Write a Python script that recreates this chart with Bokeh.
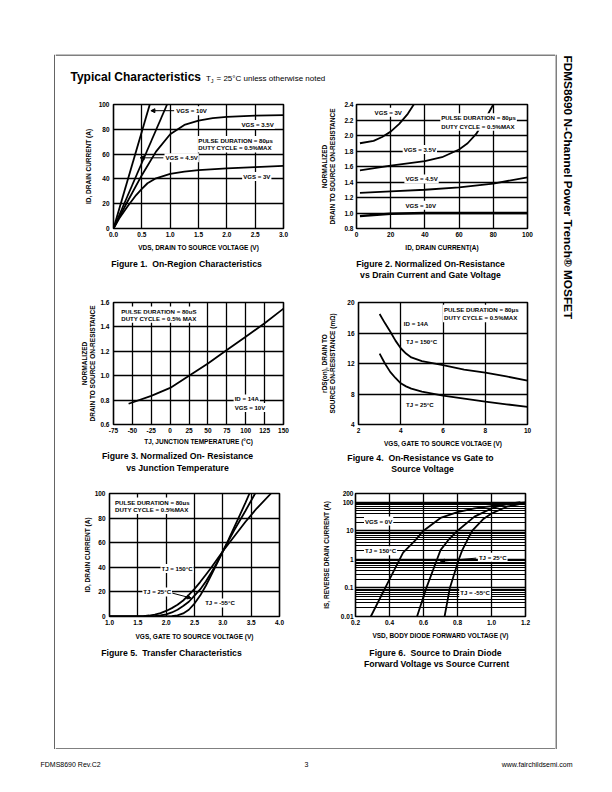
import math
from bokeh.plotting import figure
from bokeh.models import (Range1d, Label, Arrow, NormalHead, Span, FixedTicker,
                          NumeralTickFormatter, CustomJSTickFormatter, Spacer)
from bokeh.layouts import row, column
from bokeh.embed import file_html
from bokeh.resources import INLINE

FONT = "Liberation Sans"
NB = "\u00a0"

# ---------------- data ----------------
# Figure 1: On-Region Characteristics (VDS in V, ID in A)
F1_VDS_10V = [0.0, 0.64]
F1_ID_10V = [0.0, 100.0]
F1_VDS_4V5 = [0.0, 0.945]
F1_ID_4V5 = [0.0, 100.0]
F1_VDS_3V5 = [0.0, 0.1, 0.25, 0.5, 0.75, 1.0, 1.25, 1.5, 1.75, 2.0, 2.5, 3.0]
F1_ID_3V5 = [0.0, 9.0, 22.0, 43.0, 62.0, 76.0, 83.5, 87.0, 89.0, 90.0, 91.0, 91.5]
F1_VDS_3V = [0.0, 0.1, 0.25, 0.4, 0.5, 0.6, 0.75, 1.0, 1.25, 1.5, 2.0, 2.5, 3.0]
F1_ID_3V = [0.0, 8.0, 18.0, 27.0, 32.0, 36.5, 40.5, 44.0, 45.8, 47.0, 48.5, 49.5, 50.5]
F1_XTICKS = [0.0, 0.5, 1.0, 1.5, 2.0, 2.5, 3.0]
F1_YTICKS = [0, 20, 40, 60, 80, 100]

# Figure 2: Normalized on-resistance vs drain current
F2_ID_10V = [2, 10, 20, 40, 60, 80, 100]
F2_R_10V = [0.96, 0.975, 0.99, 1.0, 1.0, 1.0, 1.0]
F2_ID_4V5 = [2, 20, 40, 60, 80, 100]
F2_R_4V5 = [1.26, 1.28, 1.30, 1.33, 1.38, 1.46]
F2_ID_3V5 = [2, 20, 40, 50, 60, 65, 70, 75, 80]
F2_R_3V5 = [1.55, 1.61, 1.67, 1.72, 1.82, 1.90, 2.02, 2.20, 2.40]
F2_ID_3V = [2, 10, 15, 20, 25, 30, 33.5]
F2_R_3V = [1.90, 1.93, 1.98, 2.05, 2.15, 2.28, 2.40]
F2_XTICKS = [0, 20, 40, 60, 80, 100]
F2_YTICKS = [0.8, 1.0, 1.2, 1.4, 1.6, 1.8, 2.0, 2.2, 2.4]

# Figure 3: Normalized on-resistance vs junction temperature
F3_TJ = [-55, -25, 0, 25, 50, 75, 100, 125, 150]
F3_R = [0.77, 0.835, 0.90, 1.0, 1.10, 1.21, 1.32, 1.43, 1.55]
F3_XTICKS = [-75, -50, -25, 0, 25, 50, 75, 100, 125, 150]
F3_YTICKS = [0.6, 0.8, 1.0, 1.2, 1.4, 1.6]

# Figure 4: On-resistance vs gate to source voltage (mOhm)
F4_VGS = [3.0, 3.25, 3.5, 3.75, 4.0, 4.25, 4.5, 5.0, 6.0, 7.0, 8.0, 9.0, 10.0]
F4_R_150C = [18.5, 17.3, 16.2, 15.0, 14.0, 13.3, 12.8, 12.3, 11.8, 11.2, 10.8, 10.3, 9.75]
F4_R_25C = [13.3, 12.0, 10.9, 10.1, 9.4, 9.0, 8.7, 8.3, 7.8, 7.4, 7.0, 6.65, 6.3]
F4_XTICKS = [2, 4, 6, 8, 10]
F4_YTICKS = [4, 8, 12, 16, 20]

# Figure 5: Transfer characteristics
F5_VGS_150C = [1.0, 1.5, 1.6, 1.7, 1.8, 1.9, 2.0, 2.1, 2.2, 2.3, 2.4, 2.5, 2.6, 2.7, 2.8, 2.9, 3.0, 3.2, 3.4, 3.6, 3.85]
F5_ID_150C = [0.0, 0.0, 0.3, 0.8, 1.6, 2.8, 4.5, 6.8, 9.5, 13.0, 17.5, 22.5, 28.0, 34.0, 40.0, 46.5, 53.0, 65.0, 77.0, 88.0, 100.0]
F5_VGS_25C = [1.0, 1.7, 1.8, 1.9, 2.0, 2.1, 2.2, 2.3, 2.4, 2.5, 2.6, 2.7, 2.8, 2.9, 3.0, 3.2, 3.4, 3.57]
F5_ID_25C = [0.0, 0.0, 0.3, 0.9, 1.8, 3.3, 5.5, 8.5, 12.0, 17.0, 22.0, 28.5, 36.0, 44.0, 53.0, 70.0, 86.0, 100.0]
F5_VGS_M55C = [1.0, 2.0, 2.1, 2.2, 2.3, 2.4, 2.5, 2.6, 2.7, 2.8, 2.9, 3.0, 3.1, 3.2, 3.3, 3.4, 3.47]
F5_ID_M55C = [0.0, 0.0, 0.3, 1.0, 2.5, 5.5, 10.5, 17.0, 25.0, 34.0, 43.5, 53.0, 62.5, 72.5, 82.5, 92.5, 100.0]
F5_XTICKS = [1.0, 1.5, 2.0, 2.5, 3.0, 3.5, 4.0]
F5_YTICKS = [0, 20, 40, 60, 80, 100]

# Figure 6: Source to drain diode forward voltage vs source current
F6_VSD_150C = [0.29, 0.40, 0.48, 0.55, 0.60, 0.70, 0.80, 0.90, 1.00, 1.10, 1.20]
F6_IS_150C = [0.01, 0.2, 1.7, 4.5, 10.0, 28.0, 45.0, 60.0, 73.0, 86.0, 97.0]
F6_VSD_25C = [0.562, 0.617, 0.68, 0.70, 0.75, 0.80, 0.90, 1.00, 1.09, 1.17]
F6_IS_25C = [0.01, 0.1, 1.0, 2.1, 5.0, 10.0, 31.0, 60.0, 86.0, 100.0]
F6_VSD_M55C = [0.724, 0.755, 0.808, 0.828, 0.86, 0.887, 0.95, 1.00, 1.09, 1.20]
F6_IS_M55C = [0.01, 0.1, 1.0, 2.1, 5.0, 10.0, 25.0, 40.0, 69.0, 95.0]
F6_XTICKS = [0.2, 0.4, 0.6, 0.8, 1.0, 1.2]
F6_YTICKS = [0.01, 0.1, 1, 10, 100, 200]
F6_YMINOR = [m * d for d in (0.01, 0.1, 1, 10) for m in range(2, 10)]


# ---------------- helpers ----------------
def blank(w, h):
    p = figure(width=w, height=h, x_range=Range1d(0, w), y_range=Range1d(h, 0),
               output_backend="svg", toolbar_location=None,
               x_axis_location=None, y_axis_location=None)
    p.min_border = 0
    p.min_border_left = 0
    p.min_border_right = 0
    p.min_border_top = 0
    p.min_border_bottom = 0
    p.outline_line_color = None
    p.grid.visible = False
    return p


def txt(p, x, y, text, size, bold=False, align="left", angle=0.0):
    p.add_layout(Label(x=x, y=y, text=text, text_font=FONT, text_font_size=size,
                       text_font_style="bold" if bold else "normal",
                       text_align=align, text_baseline="middle", angle=angle,
                       text_color="black"))


def chart(w, h, fl, fr, ft, fb, xr, yr, xticks, yticks, xlabel, ylabel, xfmt, yfmt,
          ystand=4, ylabstand=3, xstand=3, xlabstand=4, ylog=False, yminor=None):
    p = figure(width=w, height=h, x_range=Range1d(xr[0], xr[1]), y_range=Range1d(yr[0], yr[1]),
               y_axis_type="log" if ylog else "linear",
               output_backend="svg", toolbar_location=None)
    p.min_border_left = fl
    p.min_border_right = fr
    p.min_border_top = ft
    p.min_border_bottom = fb
    p.outline_line_color = "black"
    p.outline_line_width = 1.6
    xt = FixedTicker(ticks=xticks)
    yt = FixedTicker(ticks=yticks, minor_ticks=yminor or [])
    p.xaxis.ticker = xt
    p.xgrid.ticker = xt
    p.yaxis.ticker = yt
    p.ygrid.ticker = yt
    p.xaxis.formatter = xfmt
    p.yaxis.formatter = yfmt
    p.axis.axis_line_color = None
    p.axis.major_tick_line_color = None
    p.axis.minor_tick_line_color = None
    p.axis.major_tick_out = 0
    p.axis.major_tick_in = 0
    p.axis.minor_tick_out = 0
    p.axis.minor_tick_in = 0
    p.axis.major_label_text_font = FONT
    p.axis.major_label_text_font_size = "6.5px"
    p.axis.major_label_text_font_style = "bold"
    p.axis.major_label_text_color = "black"
    p.axis.axis_label_text_font = FONT
    p.axis.axis_label_text_font_size = "6.5px"
    p.axis.axis_label_text_font_style = "bold"
    p.axis.axis_label_text_color = "black"
    p.xaxis.major_label_standoff = xstand
    p.yaxis.major_label_standoff = ystand
    p.xaxis.axis_label_standoff = xlabstand
    p.yaxis.axis_label_standoff = ylabstand
    p.xaxis.axis_label = xlabel
    p.yaxis.axis_label = ylabel
    p.grid.grid_line_color = "black"
    p.grid.grid_line_width = 1.3
    if yminor:
        p.ygrid.minor_grid_line_color = "black"
        p.ygrid.minor_grid_line_width = 1.1
    return p


def curve(p, x, y, lw=1.8):
    p.line(x, y, line_color="black", line_width=lw)


def note(p, x, y, text, size="6.1px"):
    p.add_layout(Label(x=x, y=y, text=text, text_align="left", text_baseline="middle",
                       text_font=FONT, text_font_size=size, text_font_style="bold",
                       text_color="black", background_fill_color="white", padding=1))


def caption_fig(h, lines):
    c = blank(250, h)
    for (x, y, t) in lines:
        txt(c, x, y, t, "8.7px", bold=True, align="center")
    return c


def arrow(p, x0, y0, x1, y1):
    p.add_layout(Arrow(end=NormalHead(size=4, fill_color="black", line_color="black", line_width=1),
                       x_start=x0, y_start=y0, x_end=x1, y_end=y1,
                       line_color="black", line_width=1))


fmt1 = lambda: NumeralTickFormatter(format="0.0")
fmt0 = lambda: NumeralTickFormatter(format="0")

# ---------------- Figure 1 ----------------
f1 = chart(250, 162, 58, 22, 12, 26, (0, 3), (0, 100), F1_XTICKS, F1_YTICKS,
           "VDS, DRAIN TO SOURCE VOLTAGE (V)", "ID, DRAIN CURRENT (A)", fmt1(), fmt0(),
           ystand=4, ylabstand=4)
curve(f1, F1_VDS_10V, F1_ID_10V)
curve(f1, F1_VDS_4V5, F1_ID_4V5)
curve(f1, F1_VDS_3V5, F1_ID_3V5)
curve(f1, F1_VDS_3V, F1_ID_3V)
note(f1, 1.09, 95, "VGS = 10V")
note(f1, 2.24, 83.8, "VGS = 3.5V")
note(f1, 1.48, 71, "PULSE DURATION = 80μs")
note(f1, 1.48, 65, "DUTY CYCLE = 0.5%MAX")
note(f1, 0.90, 57, "VGS = 4.5V")
note(f1, 2.27, 42, "VGS = 3V")
arrow(f1, 1.07, 95, 0.66, 95)
arrow(f1, 0.88, 57, 0.47, 57)
c1 = caption_fig(34, [(131, 9, "Figure 1." + NB + " On-Region Characteristics")])

# ---------------- Figure 2 ----------------
f2 = chart(250, 162, 51, 28, 12, 26, (0, 100), (0.8, 2.4), F2_XTICKS, F2_YTICKS,
           "ID, DRAIN CURRENT(A)", "NORMALIZED\nDRAIN TO SOURCE ON-RESISTANCE", fmt0(), fmt1(),
           ystand=3, ylabstand=5)
curve(f2, F2_ID_10V, F2_R_10V, lw=2.4)
curve(f2, F2_ID_4V5, F2_R_4V5)
curve(f2, F2_ID_3V5, F2_R_3V5)
curve(f2, F2_ID_3V, F2_R_3V)
note(f2, 10, 2.3, "VGS = 3V")
note(f2, 49, 2.23, "PULSE DURATION = 80μs")
note(f2, 49, 2.12, "DUTY CYCLE = 0.5%MAX")
note(f2, 27, 1.82, "VGS = 3.5V")
note(f2, 28, 1.44, "VGS = 4.5V")
note(f2, 28, 1.10, "VGS = 10V")
c2 = caption_fig(34, [(125, 9, "Figure 2. Normalized On-Resistance"),
                      (125, 20, "vs Drain Current and Gate Voltage")])

# ---------------- Figure 3 ----------------
f3 = chart(250, 161, 58, 22, 12, 25, (-75, 150), (0.6, 1.6), F3_XTICKS, F3_YTICKS,
           "TJ, JUNCTION TEMPERATURE (°C)", "NORMALIZED\nDRAIN TO SOURCE ON-RESISTANCE",
           fmt0(), fmt1(), ystand=4, ylabstand=1, xlabstand=2)
curve(f3, F3_TJ, F3_R)
note(f3, -66, 1.53, "PULSE DURATION = 80μS")
note(f3, -66, 1.47, "DUTY CYCLE = 0.5% MAX")
note(f3, 84, 0.81, "ID = 14A")
note(f3, 84, 0.74, "VGS = 10V")
c3 = caption_fig(31, [(122, 6, "Figure 3. Normalized On- Resistance"),
                      (122, 18, "vs Junction Temperature")])

# ---------------- Figure 4 ----------------
f4 = chart(250, 161, 53, 28, 14, 23, (2, 10), (4, 20), F4_XTICKS, F4_YTICKS,
           "VGS, GATE TO SOURCE VOLTAGE (V)", "rDS(on), DRAIN TO\nSOURCE ON-RESISTANCE (mΩ)",
           fmt0(), fmt0(), ystand=4, ylabstand=8)
curve(f4, F4_VGS, F4_R_150C)
curve(f4, F4_VGS, F4_R_25C)
note(f4, 6.0, 19.1, "PULSE DURATION = 80μs")
note(f4, 6.0, 18.0, "DUTY CYCLE = 0.5%MAX")
note(f4, 4.1, 17.2, "ID = 14A")
note(f4, 4.2, 14.9, "TJ = 150°C")
note(f4, 4.2, 6.6, "TJ = 25°C")
c4 = caption_fig(31, [(115, 8, "Figure 4." + NB + " On-Resistance vs Gate to"),
                      (117, 19, "Source Voltage")])

# ---------------- Figure 5 ----------------
f5 = chart(250, 162, 54, 26, 11, 26, (1, 4), (0, 100), F5_XTICKS, F5_YTICKS,
           "VGS, GATE TO SOURCE VOLTAGE (V)", "ID, DRAIN CURRENT (A)",
           fmt1(), fmt0(), ystand=4, ylabstand=1, xlabstand=5)
curve(f5, F5_VGS_150C, F5_ID_150C)
curve(f5, F5_VGS_25C, F5_ID_25C)
curve(f5, F5_VGS_M55C, F5_ID_M55C)
note(f5, 1.08, 93, "PULSE DURATION = 80μs")
note(f5, 1.08, 87, "DUTY CYCLE = 0.5%MAX")
note(f5, 1.90, 39, "TJ = 150°C")
note(f5, 1.58, 20, "TJ = 25°C")
note(f5, 2.67, 11, "TJ = -55°C")
arrow(f5, 2.11, 19, 2.44, 15)
c5 = caption_fig(38, [(116, 10, "Figure 5." + NB + " Transfer Characteristics")])

# ---------------- Figure 6 ----------------
f6 = chart(250, 162, 50, 30, 13, 25, (0.2, 1.2), (0.01, 200), F6_XTICKS, F6_YTICKS,
           "VSD, BODY DIODE FORWARD VOLTAGE (V)", "IS, REVERSE DRAIN CURRENT (A)",
           fmt1(), CustomJSTickFormatter(code="return String(tick);"),
           ystand=2, ylabstand=8, ylog=True, yminor=F6_YMINOR)
curve(f6, F6_VSD_150C, F6_IS_150C)
curve(f6, F6_VSD_25C, F6_IS_25C)
curve(f6, F6_VSD_M55C, F6_IS_M55C)
note(f6, 0.25, 21.7, "VGS = 0V")
note(f6, 0.25, 2.0, "TJ = 150°C")
note(f6, 0.92, 1.17, "TJ = 25°C")
note(f6, 0.81, 0.069, "TJ = -55°C")
arrow(f6, 0.91, 1.1, 0.70, 0.85)
c6 = caption_fig(38, [(130, 10, "Figure 6." + NB + " Source to Drain Diode"),
                      (131, 21, "Forward Voltage vs Source Current")])

# ---------------- page furniture ----------------
header = blank(500, 38)
header.add_layout(Span(location=0.5, dimension="width", line_color="black", line_width=1))
txt(header, 15, 22, "Typical Characteristics", "12px", bold=True)
txt(header, 150.5, 24, "T", "8px")
txt(header, 155.3, 26, "J", "5.5px")
txt(header, 161, 24, "= 25°C unless otherwise noted", "8px")

bottom = blank(500, 69)
bottom.add_layout(Span(location=68.5, dimension="width", line_color="black", line_width=1))

left_strip = blank(47, 695)
left_strip.add_layout(Span(location=46.4, dimension="height", line_color="black", line_width=1))

right_strip = blank(49, 695)
right_strip.add_layout(Span(location=0.5, dimension="height", line_color="black", line_width=1))
txt(right_strip, 12, 1, "FDMS8690 N-Channel Power Trench® MOSFET", "11.8px", bold=True,
    angle=-math.pi / 2)

footer = blank(596, 35)
txt(footer, 32, 15, "FDMS8690 Rev.C2", "7px")
txt(footer, 298, 15, "3", "7px", align="center")
txt(footer, 564, 15, "www.fairchildsemi.com", "7px", align="right")

center = column(header, row(f1, f2), row(c1, c2), row(f3, f4), row(c3, c4),
                row(f5, f6), row(c5, c6), bottom)
page = column(Spacer(width=596, height=46),
              row(left_strip, center, right_strip),
              footer)
root = row(Spacer(width=8, height=784), column(Spacer(width=596, height=8), page))

open("out.html", "w").write(file_html(root, INLINE))
